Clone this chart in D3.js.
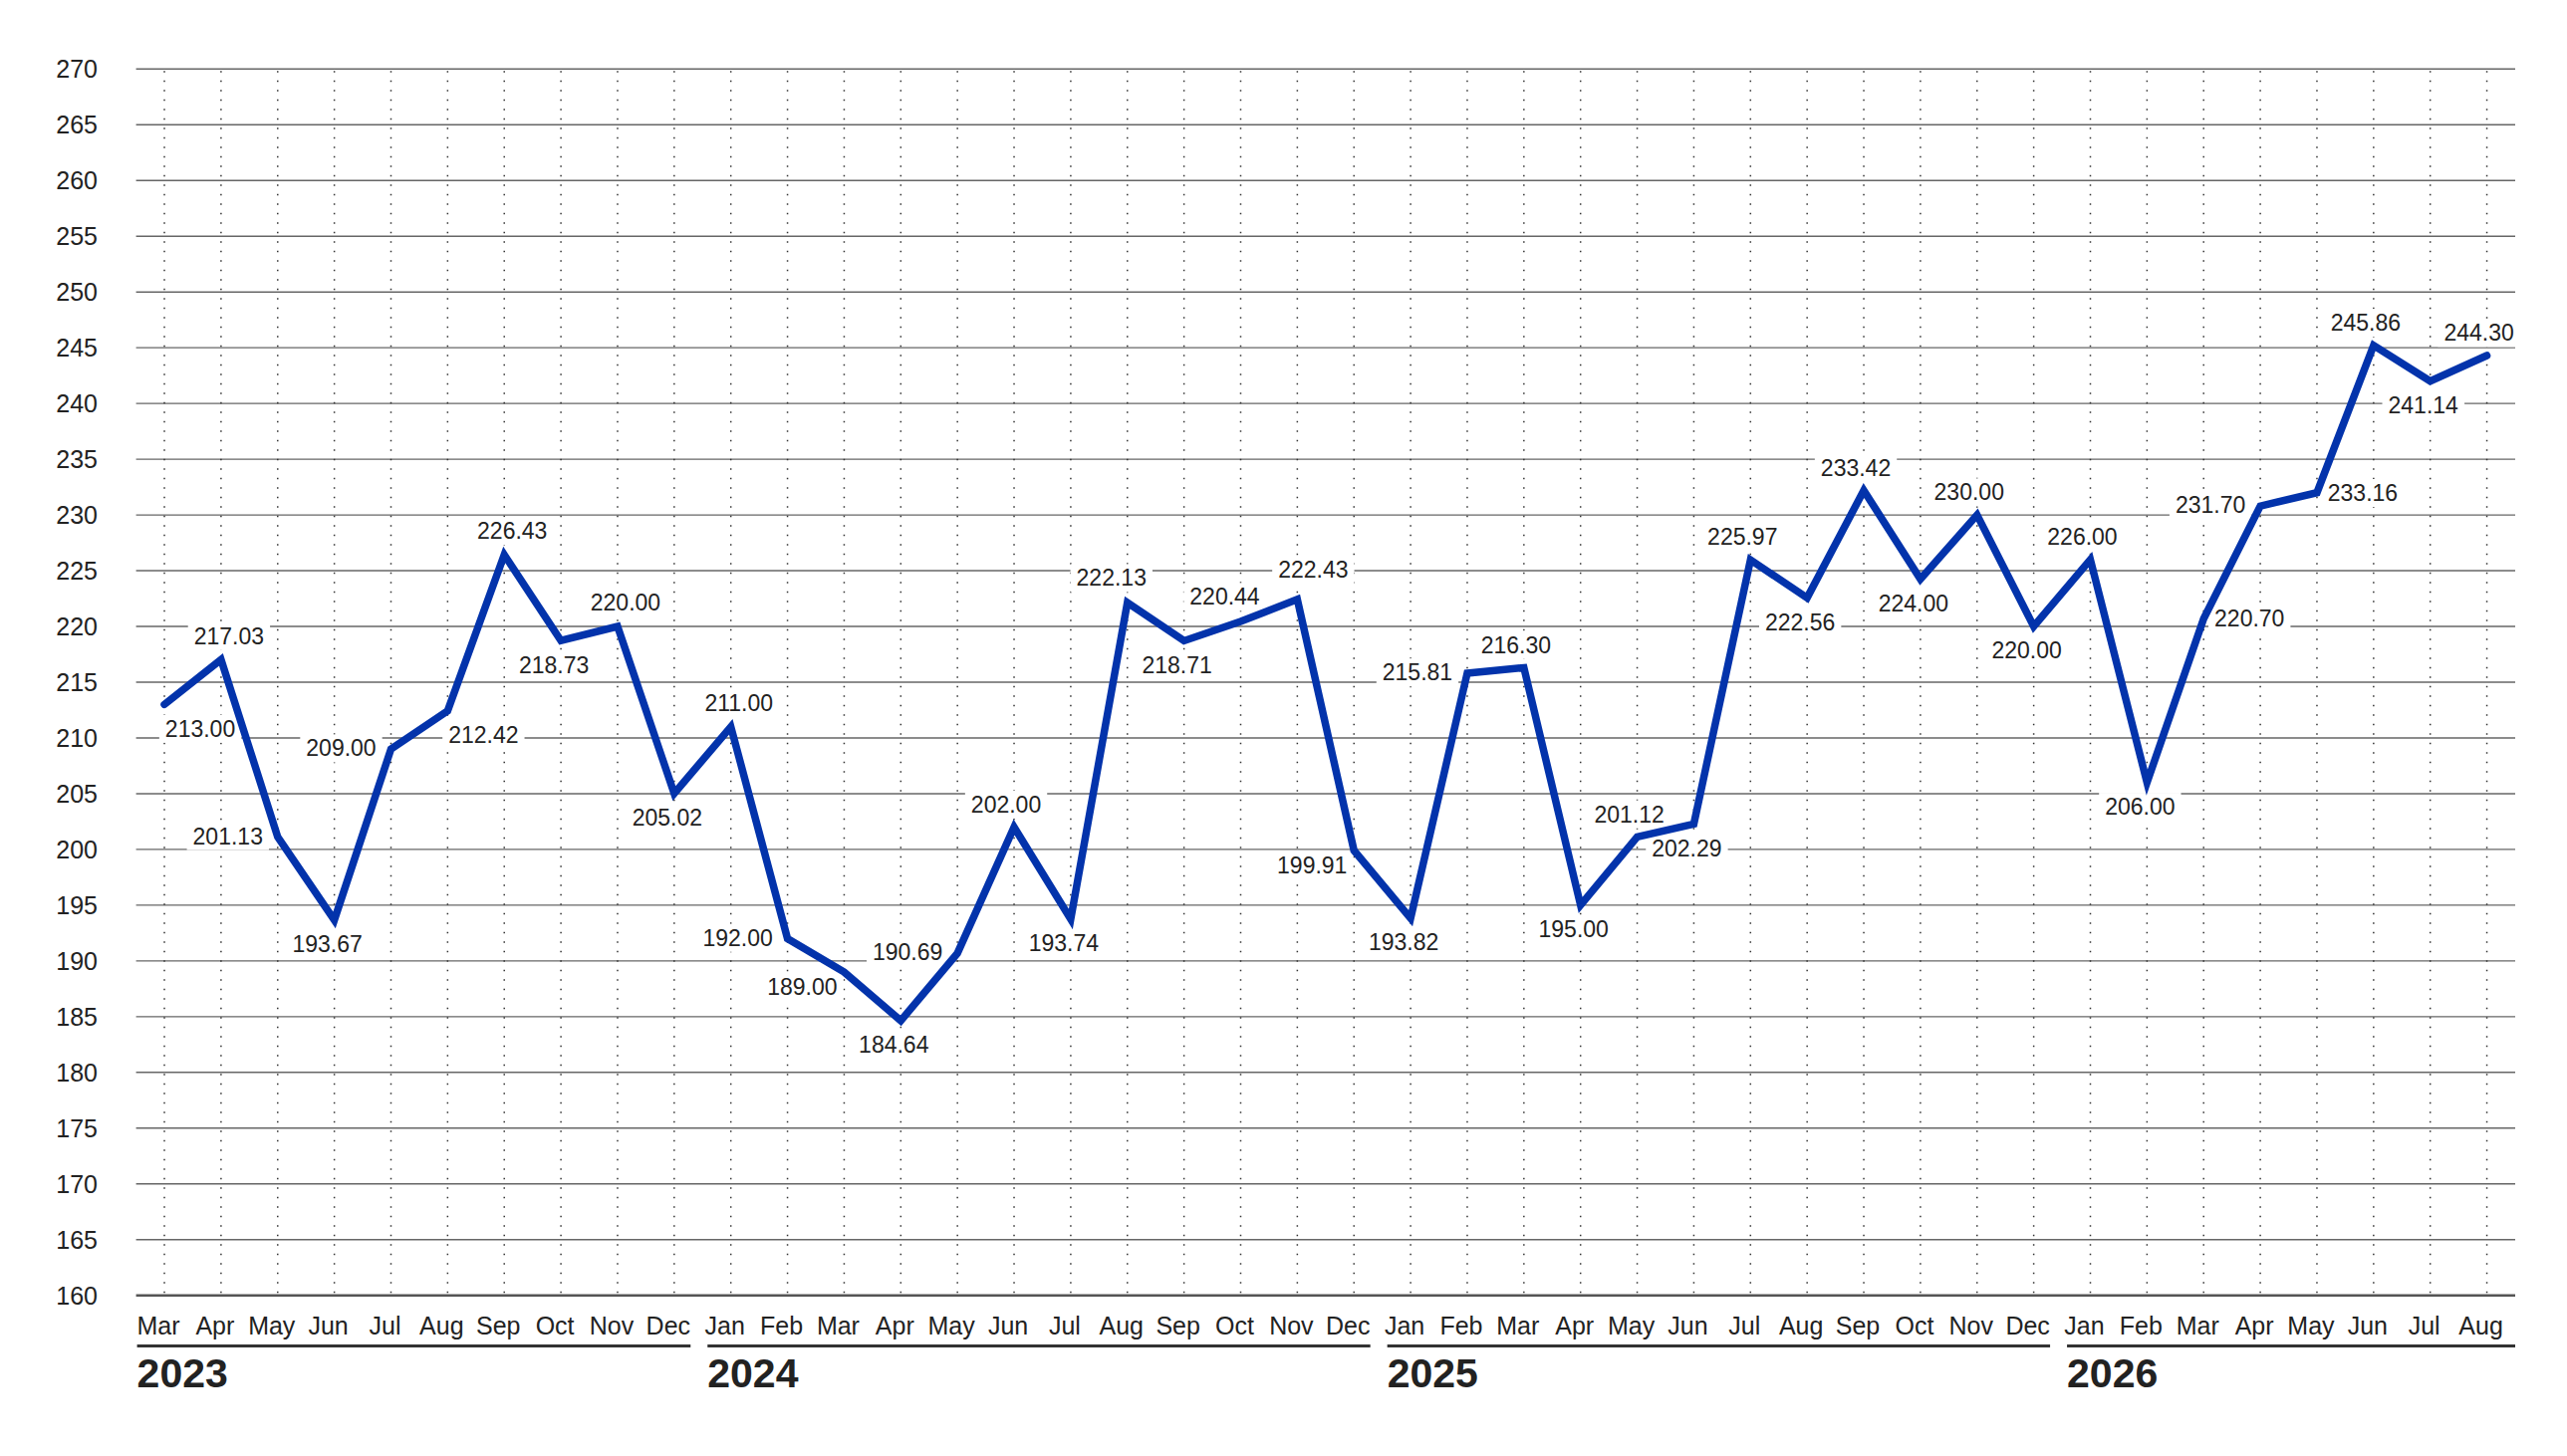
<!DOCTYPE html>
<html>
<head>
<meta charset="utf-8">
<script src="https://cdn.jsdelivr.net/npm/d3@7"></script>
<style>
  body { margin: 0; background: #fff; }
  text { font-family: "Liberation Sans", Arial, Helvetica, sans-serif; fill: #222; }
</style>
</head>
<body>
<script>
// months shown on the x axis
const periods = [
  "2023-03", "2023-04", "2023-05", "2023-06", "2023-07", "2023-08", "2023-09", "2023-10", "2023-11", "2023-12",
  "2024-01", "2024-02", "2024-03", "2024-04", "2024-05", "2024-06", "2024-07", "2024-08", "2024-09", "2024-10", "2024-11", "2024-12",
  "2025-01", "2025-02", "2025-03", "2025-04", "2025-05", "2025-06", "2025-07", "2025-08", "2025-09", "2025-10", "2025-11", "2025-12",
  "2026-01", "2026-02", "2026-03", "2026-04", "2026-05", "2026-06", "2026-07", "2026-08"
];

// line values
const values = [
  213.00, 217.03, 201.13, 193.67, 209.00, 212.42, 226.43, 218.73, 220.00, 205.02,
  211.00, 192.00, 189.00, 184.64, 190.69, 202.00, 193.74, 222.13, 218.71, 220.44, 222.43, 199.91,
  193.82, 215.81, 216.30, 195.00, 201.12, 202.29, 225.97, 222.56, 232.20, 224.25, 230.00, 220.00,
  226.00, 206.00, 220.70, 230.80, 232.00, 245.20, 242.00, 244.30
];

// value labels as printed on the chart
const valueLabels = [
  "213.00", "217.03", "201.13", "193.67", "209.00", "212.42", "226.43", "218.73", "220.00", "205.02",
  "211.00", "192.00", "189.00", "184.64", "190.69", "202.00", "193.74", "222.13", "218.71", "220.44", "222.43", "199.91",
  "193.82", "215.81", "216.30", "195.00", "201.12", "202.29", "225.97", "222.56", "233.42", "224.00", "230.00", "220.00",
  "226.00", "206.00", "220.70", "231.70", "233.16", "245.86", "241.14", "244.30"
];

// where each value label sits relative to its point
const labelPlacement = [
  "br", "ar", "l", "b", "l", "br", "ar", "b", "ar", "b",
  "ar", "l", "bl", "b", "l", "a", "b", "al", "b", "al", "aR", "bl",
  "b", "l", "a", "b", "a", "b", "a", "b", "a", "b", "a", "b",
  "a", "b", "r", "l", "r", "a", "b", "a"
];

const yTicks = [160, 165, 170, 175, 180, 185, 190, 195, 200, 205, 210, 215, 220, 225, 230, 235, 240, 245, 250, 255, 260, 265, 270];

const width = 2577, height = 1462;
const plotLeft = 136.6, plotRight = 2525, plotTop = 69.3, plotBottom = 1300.7;

const parse = d3.timeParse("%Y-%m");
const fmtMonth = d3.timeFormat("%b");

const svg = d3.select("body").append("svg")
  .attr("width", width)
  .attr("height", height);

const x = d3.scaleBand().domain(periods).range([plotLeft, plotRight]);
const y = d3.scaleLinear().domain([160, 270]).range([plotBottom, plotTop]);
const cx = p => x(p) + x.bandwidth() / 2;

// horizontal gridlines
svg.append("g").selectAll("line")
  .data(yTicks)
  .enter().append("line")
  .attr("x1", plotLeft).attr("x2", plotRight)
  .attr("y1", d => y(d)).attr("y2", d => y(d))
  .attr("stroke", d => d === 160 ? "#555" : "#666")
  .attr("stroke-width", d => d === 160 ? 2.5 : 1.4);

// y tick labels
svg.append("g").selectAll("text")
  .data(yTicks)
  .enter().append("text")
  .attr("x", 98)
  .attr("y", d => y(d) + 9)
  .attr("text-anchor", "end")
  .attr("font-size", 25)
  .text(d => d);

// dotted month lines
svg.append("g").selectAll("line")
  .data(periods)
  .enter().append("line")
  .attr("x1", d => cx(d)).attr("x2", d => cx(d))
  .attr("y1", plotTop + 2).attr("y2", plotBottom - 1)
  .attr("stroke", "#333")
  .attr("stroke-width", 1.5)
  .attr("stroke-dasharray", "1.5,8");

// month labels
svg.append("g").selectAll("text")
  .data(periods)
  .enter().append("text")
  .attr("x", d => cx(d) - 6)
  .attr("y", 1340)
  .attr("text-anchor", "middle")
  .attr("font-size", 25)
  .text(d => fmtMonth(parse(d)));

// year groups: underline + label
const years = Array.from(d3.group(periods, p => p.slice(0, 4)), ([year, ps]) => ({ year, ps }));
const yearG = svg.append("g");
years.forEach((g, i) => {
  const x0 = x(g.ps[0]) + (i === 0 ? 1 : 5);
  const x1 = x(g.ps[g.ps.length - 1]) + x.bandwidth() - (i === years.length - 1 ? 0 : 12);
  yearG.append("line")
    .attr("x1", x0).attr("x2", x1)
    .attr("y1", 1351.5).attr("y2", 1351.5)
    .attr("stroke", "#333")
    .attr("stroke-width", 3);
  yearG.append("text")
    .attr("x", x0)
    .attr("y", 1393)
    .attr("font-size", 41)
    .attr("font-weight", "bold")
    .text(g.year);
});

// value labels with white boxes
const offsets = {
  a: [-8, -23], al: [-16, -25], ar: [8, -24], aR: [16, -30],
  b: [-7, 24], l: [-50, -1], r: [46, 0],
  bl: [-42, 15], br: [36, 24]
};
const labelG = svg.append("g");
periods.forEach((p, i) => {
  const off = offsets[labelPlacement[i]];
  const lx = cx(p) + off[0];
  const ly = y(values[i]) + off[1];
  const t = labelG.append("text")
    .attr("x", lx)
    .attr("y", ly + 8.3)
    .attr("text-anchor", "middle")
    .attr("font-size", 23)
    .text(valueLabels[i]);
  const bb = t.node().getBBox();
  labelG.insert("rect", function() { return t.node(); })
    .attr("x", bb.x - 6).attr("y", bb.y - 1)
    .attr("width", bb.width + 12).attr("height", bb.height + 2)
    .attr("fill", "#fff");
});

// the series line
const line = d3.line()
  .x((d, i) => cx(periods[i]))
  .y(d => y(d));

svg.append("path")
  .datum(values)
  .attr("d", line)
  .attr("fill", "none")
  .attr("stroke", "#0333AB")
  .attr("stroke-width", 7.5)
  .attr("stroke-linejoin", "miter")
  .attr("stroke-linecap", "round");
</script>
</body>
</html>
